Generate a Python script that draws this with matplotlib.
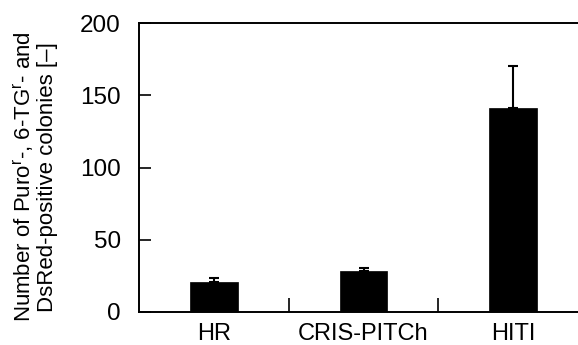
import matplotlib as mpl
mpl.use('Agg')
import matplotlib.pyplot as plt
import numpy as np

plt.rcParams['font.family'] = ['Liberation Sans', 'DejaVu Sans']
plt.rcParams['mathtext.fontset'] = 'custom'
plt.rcParams['mathtext.rm'] = 'Liberation Sans'
plt.rcParams['mathtext.it'] = 'Liberation Sans'

# data
categories = ['HR', 'CRIS-PITCh', 'HITI']
means = [21, 28.4, 141.4]
errors_up = [2.3, 2.3, 28.6]
y_ticks = [0, 50, 100, 150, 200]

fig = plt.figure(figsize=(5.78, 3.45), dpi=100)
# axes runs past the right edge of the figure, like the reference
ax = fig.add_axes([139 / 578, 1 - 312 / 345, (588 - 139) / 578, (312 - 23) / 345])

x = np.arange(len(categories))
ax.bar(x, means, width=0.32, color='black', edgecolor='black', linewidth=0.5,
       yerr=[np.zeros(len(means)), errors_up], capsize=3.5,
       error_kw=dict(ecolor='black', elinewidth=1.5, capthick=1.5))

ax.set_xlim(-0.5, len(categories) - 0.5)
ax.set_ylim(0, 200)
ax.set_yticks(y_ticks)
ax.tick_params(axis='y', direction='in', length=8.5, width=1.2, pad=13, labelsize=17.5)

# category labels in the middle, tick marks on the boundaries
ax.set_xticks(x)
ax.set_xticklabels(categories)
ax.tick_params(axis='x', which='major', length=0, pad=8, labelsize=17)
ax.set_xticks(x[:-1] + 0.5, minor=True)
ax.tick_params(axis='x', which='minor', direction='in', length=10, width=1.2)

for side in ['left', 'bottom', 'top']:
    ax.spines[side].set_linewidth(1.4)
ax.spines['right'].set_visible(False)

fig.text(35 / 578, 1 - 177 / 345,
         'Number of Puro$^{\\mathrm{r}}$-, 6-TG$^{\\mathrm{r}}$- and\nDsRed-positive colonies [–]',
         rotation=90, ha='center', va='center', multialignment='center', fontsize=16,
         linespacing=1.05)

fig.savefig('out.png', dpi=100)
